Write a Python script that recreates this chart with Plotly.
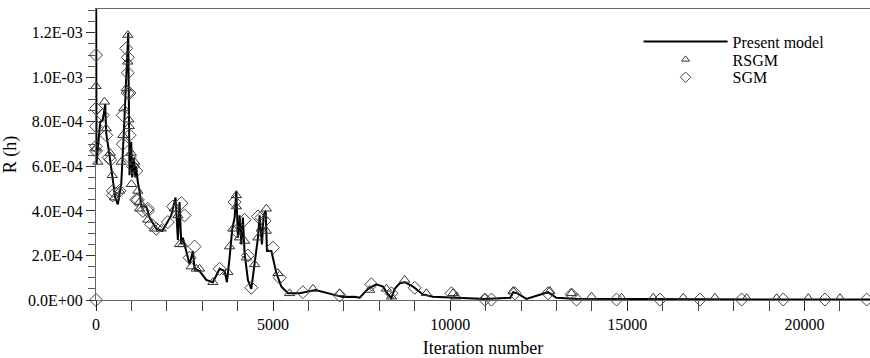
import plotly.graph_objects as go

# values of R(h) given in units of 1e-4
UNIT = 1e-4

model_x = [0, 15, 119, 192, 260, 288, 381, 466, 542, 616, 712, 785, 853, 910, 946, 994, 1022, 1068,
           1110, 1134, 1180, 1229, 1277, 1418, 1512, 1701, 1870, 1983, 2124, 2246, 2311, 2359, 2407,
           2452, 2548, 2641, 2735, 2783, 2924, 3113, 3300, 3490, 3631, 3696, 3771, 3848, 3913, 3961,
           4006, 4054, 4102, 4147, 4195, 4289, 4385, 4479, 4572, 4620, 4685, 4733, 4790, 4826, 4951,
           5093, 5234, 5420, 5750, 6200, 6600, 6973, 7300, 7445, 7677, 7914, 8102, 8243, 8339, 8432,
           8573, 8715, 8950, 9232, 9515, 10080, 11000, 11700, 11778, 11900, 12150, 12761, 12995,
           13500, 15000, 17000, 19000, 22000]
model_y = [16.0, 6.1, 8.0, 8.1, 8.8, 7.5, 6.5, 5.6, 4.6, 4.3, 5.2, 7.5, 9.8, 12.0, 5.6, 7.1, 5.5, 6.4,
           5.5, 6.0, 5.3, 4.9, 4.2, 4.2, 3.7, 3.2, 3.1, 3.4, 3.8, 4.6, 2.7, 4.4, 2.5,
           2.8, 2.2, 1.6, 2.2, 1.4, 1.3, 0.9, 0.8, 1.4, 1.3, 0.8, 1.9, 3.2, 3.7, 4.9,
           2.8, 3.8, 2.5, 3.7, 2.1, 0.9, 0.5, 1.6, 2.8, 3.8, 2.5, 3.8, 4.0, 2.2, 2.2,
           1.2, 0.6, 0.3, 0.3, 0.45, 0.3, 0.13, 0.15, 0.1, 0.5, 0.7, 0.6, 0.25, 0.1, 0.5,
           0.75, 0.8, 0.6, 0.25, 0.15, 0.12, 0.05, 0.1, 0.35, 0.3, 0.05, 0.35, 0.1,
           0.06, 0.04, 0.03, 0.02, 0.02]

rsgm_x = [0, 0, 51, 240, 288, 401, 460, 523, 664, 712, 757, 785, 853, 898, 898, 927, 938, 994, 1000,
          1088, 1181, 1229, 1229, 1463, 1653, 1842, 2218, 2311, 2359, 2444, 2689, 2831, 2924, 3300,
          3723, 3771, 3865, 3961, 3961, 4054, 4195, 4243, 4478, 4571, 4667, 4808, 4808, 5136, 5466,
          6125, 6879, 7726, 8198, 8340, 8715, 9328, 10080, 10175, 10975, 11774, 12811, 13424,
          13990, 14837, 15730, 16577, 17472, 18368, 19216, 20108, 21004]
rsgm_y = [9.6, 6.8, 6.2, 8.9, 7.7, 6.6, 5.6, 4.6, 4.9, 6.2, 7.4, 8.6, 9.5, 11.9, 10.7, 8.1, 7.8, 6.6, 5.2,
          6.2, 4.9, 4.4, 4.1, 3.6, 3.2, 3.2, 4.1, 3.8, 2.5, 2.5, 1.5, 1.4, 1.4, 0.8,
          1.25, 2.4, 3.2, 4.7, 4.2, 2.8, 2.65, 1.9, 1.6, 2.8, 3.2, 4.1, 3.1, 1.2, 0.3,
          0.5, 0.3, 0.45, 0.5, 0.15, 0.9, 0.3, 0.3, 0.15, 0.1, 0.4, 0.4, 0.3,
          0.15, 0.1, 0.1, 0.1, 0.1, 0.08, 0.08, 0.08, 0.08]

sgm_x = [0, 0, 0, 0, 0, 0, 192, 288, 362, 410, 475, 475, 664, 757, 757, 853, 898, 898, 898, 946, 946,
         946, 1040, 1136, 1136, 1181, 1322, 1463, 1463, 1559, 1701, 2028, 2170, 2407, 2500, 2641,
         2783, 3489, 3913, 3961, 4195, 4288, 4384, 4571, 4667, 4760, 4995, 5184, 5842, 6879, 7774,
         8340, 8998, 10034, 10975, 11164, 11823, 12763, 13424, 13566, 14696, 15919, 17049, 18227,
         19402, 20580, 21758]
sgm_y = [11.0, 8.6, 7.8, 6.9, 6.7, 0.0, 8.3, 7.4, 6.4, 6.3, 4.9, 4.7, 4.9, 8.3, 7.0, 11.3, 10.9, 10.2, 9.3, 9.3, 7.4,
         6.4, 6.0, 5.8, 4.5, 4.5, 4.0, 4.0, 4.1, 3.4, 3.2, 3.5, 4.2, 4.35, 3.8, 1.9,
         2.4, 1.4, 4.4, 3.1, 3.6, 2.0, 0.55, 3.75, 3.7, 3.55, 2.35, 1.0, 0.35, 0.2, 0.7,
         0.3, 0.55, 0.3, 0.02, 0.02, 0.3, 0.3, 0.25, 0.02, 0.02, 0.02, 0.02, 0.02,
         0.02, 0.02, 0.02]

y_tickvals = [0, 2, 4, 6, 8, 10, 12]
y_ticktext = ["0.0E+00", "2.0E-04", "4.0E-04", "6.0E-04", "8.0E-04", "1.0E-03", "1.2E-03"]
x_tickvals = [0, 5000, 10000, 15000, 20000]
x_ticktext = ["0", "5000", "10000", "15000", "20000"]

FONT = "Liberation Serif, Times New Roman, serif"

fig = go.Figure()
fig.add_trace(go.Scatter(x=model_x, y=[v * UNIT for v in model_y], mode="lines",
                         name="Present model", line=dict(color="black", width=2),
                         legend="legend"))
fig.add_trace(go.Scatter(x=rsgm_x, y=[v * UNIT for v in rsgm_y], mode="markers", name="RSGM",
                         cliponaxis=False, showlegend=False,
                         marker=dict(symbol="triangle-up-open", size=9, color="#333333",
                                     line=dict(width=1, color="#333333"))))
fig.add_trace(go.Scatter(x=sgm_x, y=[v * UNIT for v in sgm_y], mode="markers", name="SGM",
                         cliponaxis=False, showlegend=False,
                         marker=dict(symbol="diamond-open", size=10, color="#444444",
                                     line=dict(width=1, color="#444444"))))
# legend-only entries with the smaller legend symbols
fig.add_trace(go.Scatter(x=[None], y=[None], mode="markers", name="RSGM", legend="legend2",
                         marker=dict(symbol="triangle-up-open", size=7, color="#333333",
                                     line=dict(width=1, color="#333333"))))
fig.add_trace(go.Scatter(x=[None], y=[None], mode="markers", name="SGM", legend="legend3",
                         marker=dict(symbol="diamond-open", size=8, color="#444444",
                                     line=dict(width=1, color="#444444"))))

leg_common = dict(xanchor="left", yanchor="middle", bgcolor="rgba(0,0,0,0)",
                  font=dict(family=FONT, size=16, color="black"), itemwidth=84,
                  borderwidth=0)
LEG_X = 0.701

fig.update_layout(
    width=870, height=358,
    margin=dict(l=96, r=0, t=9, b=55),
    paper_bgcolor="white", plot_bgcolor="white",
    font=dict(family=FONT, size=16, color="black"),
    showlegend=True,
    legend=dict(x=LEG_X, y=(303 - 42) / 294, **leg_common),
    legend2=dict(x=LEG_X, y=(303 - 60) / 294, **leg_common),
    legend3=dict(x=LEG_X, y=(303 - 78) / 294, **leg_common),
    xaxis=dict(range=[0, 21851], showgrid=False, zeroline=False,
               tickvals=x_tickvals, ticktext=x_ticktext,
               ticks="outside", ticklen=10, tickcolor="#222", tickwidth=1,
               minor=dict(dtick=1000, ticks="outside", ticklen=10, tickcolor="#444", tickwidth=1),
               showline=True, linecolor="#666", linewidth=1, mirror=True,
               title=dict(text="Iteration number", font=dict(family=FONT, size=18), standoff=12),
               tickfont=dict(family=FONT, size=16)),
    yaxis=dict(range=[0, 13.07 * UNIT], showgrid=False, zeroline=False,
               tickvals=[v * UNIT for v in y_tickvals], ticktext=y_ticktext,
               ticks="outside", ticklen=9, tickcolor="#333", tickwidth=1,
               minor=dict(dtick=0.5 * UNIT, ticks="outside", ticklen=7, tickcolor="#555", tickwidth=1),
               showline=True, linecolor="#666", linewidth=1,
               title=dict(text="R (h)", font=dict(family=FONT, size=18), standoff=6),
               tickfont=dict(family=FONT, size=16)),
)

fig.write_html("out.html")
